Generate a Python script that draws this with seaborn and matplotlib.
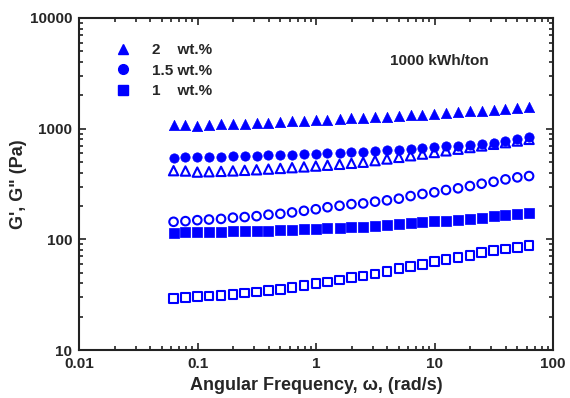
import pandas as pd
import matplotlib
matplotlib.use("Agg")
import matplotlib.pyplot as plt
from matplotlib.lines import Line2D
from matplotlib.ticker import LogLocator, FixedLocator, FixedFormatter, NullFormatter
import seaborn as sns

# angular frequency (rad/s)
omega = [0.0628, 0.0791, 0.0996, 0.125, 0.158, 0.199, 0.250, 0.315, 0.397, 0.500,
         0.628, 0.791, 0.996, 1.25, 1.58, 1.99, 2.50, 3.15, 3.97, 5.00,
         6.28, 7.91, 9.96, 12.5, 15.8, 19.9, 25.0, 31.5, 39.7, 50.0, 62.8]

# moduli (Pa), 1000 kWh/ton
g1_2wt = [1080, 1085, 1065, 1075, 1095, 1100, 1110, 1120, 1135, 1150,
          1165, 1175, 1190, 1205, 1220, 1240, 1255, 1270, 1285, 1300,
          1320, 1340, 1360, 1380, 1405, 1430, 1455, 1485, 1515, 1545, 1580]
g2_2wt = [417, 414, 405, 408, 411, 415, 420, 425, 431, 437,
          444, 451, 459, 467, 476, 486, 497, 514, 532, 550,
          569, 589, 609, 630, 652, 675, 698, 722, 747, 773, 800]
g1_15wt = [546, 549, 552, 555, 558, 562, 566, 570, 574, 579,
           584, 589, 594, 600, 606, 612, 618, 626, 635, 645,
           655, 666, 678, 690, 703, 717, 732, 748, 770, 800, 834]
g2_15wt = [144, 146, 149, 151, 153, 157, 159, 162, 167, 170,
           175, 181, 187, 195, 201, 208, 211, 219, 225, 233,
           246, 257, 266, 279, 289, 303, 318, 331, 348, 363, 373]
g1_1wt = [115, 116, 116, 117, 117, 118, 118, 119, 120, 121,
          122, 123, 124, 126, 127, 129, 130, 133, 136, 138,
          140, 142, 145, 147, 150, 153, 157, 161, 166, 169, 174]
g2_1wt = [29.3, 29.9, 30.3, 30.8, 31.2, 31.9, 32.7, 33.4, 34.4, 35.3,
          36.8, 38.1, 39.7, 41.1, 42.9, 45.4, 46.6, 48.6, 51.4, 54.3,
          57.0, 59.4, 62.8, 65.9, 68.7, 71.6, 75.7, 78.9, 81.7, 84.7, 88.3]

conc_labels = ["2    wt.%", "1.5 wt.%", "1    wt.%"]
x_ticks = [0.01, 0.1, 1, 10, 100]
x_ticklabels = ["0.01", "0.1", "1", "10", "100"]
y_ticks = [10, 100, 1000, 10000]
y_ticklabels = ["10", "100", "1000", "10000"]

sns.set_style("ticks")
plt.rcParams["font.family"] = ["Liberation Sans", "DejaVu Sans"]
plt.rcParams["font.weight"] = "bold"

blue = "#0000ff"
fig = plt.figure(figsize=(5.7, 3.98), dpi=100)
ax = fig.add_axes([0.1386, 0.1206, 0.8316, 0.8342])

series = [
    (g1_2wt, "^", True, 55),
    (g2_2wt, "^", False, 45),
    (g1_15wt, "o", True, 45),
    (g2_15wt, "o", False, 38),
    (g1_1wt, "s", True, 45),
    (g2_1wt, "s", False, 38),
]
for vals, mk, filled, sz in series:
    df = pd.DataFrame({"w": omega, "G": vals})
    if filled:
        sns.scatterplot(data=df, x="w", y="G", marker=mk, s=sz, color=blue,
                        edgecolor=blue, linewidth=0.5, ax=ax, legend=False)
    else:
        sns.scatterplot(data=df, x="w", y="G", marker=mk, s=sz, facecolor="none",
                        edgecolor=blue, linewidth=1.5, ax=ax, legend=False)

ax.set_xscale("log")
ax.set_yscale("log")
ax.set_xlim(0.01, 100)
ax.set_ylim(10, 10000)
ax.xaxis.set_major_locator(FixedLocator(x_ticks))
ax.xaxis.set_major_formatter(FixedFormatter(x_ticklabels))
ax.yaxis.set_major_locator(FixedLocator(y_ticks))
ax.yaxis.set_major_formatter(FixedFormatter(y_ticklabels))
ax.xaxis.set_minor_locator(LogLocator(base=10, subs=range(2, 10), numticks=20))
ax.yaxis.set_minor_locator(LogLocator(base=10, subs=range(2, 10), numticks=20))
ax.xaxis.set_minor_formatter(NullFormatter())
ax.yaxis.set_minor_formatter(NullFormatter())
ax.tick_params(which="both", direction="in", top=True, right=True, width=1.2, color="#222222")
ax.tick_params(which="major", length=5, labelsize=11, pad=5)
ax.tick_params(which="minor", length=3)
for lab in ax.get_xticklabels() + ax.get_yticklabels():
    lab.set_fontweight("bold")
for sp in ax.spines.values():
    sp.set_linewidth(1.5)
    sp.set_color("#222222")

ax.set_xlabel("Angular Frequency, ω, (rad/s)", fontsize=13, fontweight="bold", labelpad=4)
ax.set_ylabel("G', G\" (Pa)", fontsize=13, fontweight="bold", labelpad=2)

handles = [Line2D([], [], marker=m, color=blue, linestyle="", markersize=7)
           for m in ["^", "o", "s"]]
leg = ax.legend(handles, conc_labels, loc="upper left", bbox_to_anchor=(0.045, 0.965),
                frameon=False, prop={"size": 11, "weight": "bold"},
                handletextpad=1.3, labelspacing=0.42, handlelength=1.2)

ax.text(0.656, 0.87, "1000 kWh/ton", transform=ax.transAxes, fontsize=11,
        fontweight="bold", va="center")

fig.savefig("out.png", dpi=100)
